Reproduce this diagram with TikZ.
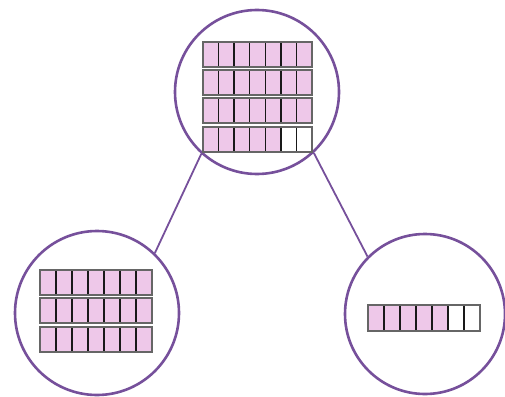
\documentclass[tikz,border=0pt]{standalone}
\usepackage{tikz}

\definecolor{ringpurple}{RGB}{118,80,155}
\definecolor{cellpink}{RGB}{238,200,233}

\tikzset{
  ring/.style={circle, draw=ringpurple, line width=2.6pt, fill=none, inner sep=0pt},
  link/.style={draw=ringpurple, line width=1.8pt},
  rowframe/.style={draw=black!60, line width=2.2pt},
  divider/.style={draw=black!90, line width=1.3pt},
}

% a bar of seven cells: left x, top y, width, height, number of shaded cells
\newcommand\cellrow[5]{%
  \fill[white] (#1,-#2) rectangle ({#1+#3},{-#2-#4});
  \fill[cellpink] (#1,-#2) rectangle ({#1+#5*#3/7},{-#2-#4});
  \foreach \k in {1,...,6}{\draw[divider] ({#1+\k*#3/7},-#2) -- ({#1+\k*#3/7},{-#2-#4});}
  \draw[rowframe] (#1,-#2) rectangle ({#1+#3},{-#2-#4});
}

\begin{document}
\begin{tikzpicture}[x=1pt,y=1pt]
  \useasboundingbox (0,0) rectangle (505,-396);

  % three groups
  \node[ring, minimum size=164pt] (whole) at (257,-92) {};
  \node[ring, minimum size=164pt] (left) at (97,-313) {};
  \node[ring, minimum size=160pt] (right) at (425,-314) {};

  \draw[link] (whole.228) -- (left.46);
  \draw[link] (whole.313) -- (right.135);

  % whole: four bars
  \cellrow{203}{42}{109}{25}{7}
  \cellrow{203}{70}{109}{25}{7}
  \cellrow{203}{98}{109}{25}{7}
  \cellrow{203}{127}{109}{25}{5}

  % left part: three full bars
  \cellrow{40}{270}{112}{25}{7}
  \cellrow{40}{298}{112}{25}{7}
  \cellrow{40}{327}{112}{25}{7}

  % right part: one bar
  \cellrow{368}{305}{112}{26}{5}
\end{tikzpicture}
\end{document}
